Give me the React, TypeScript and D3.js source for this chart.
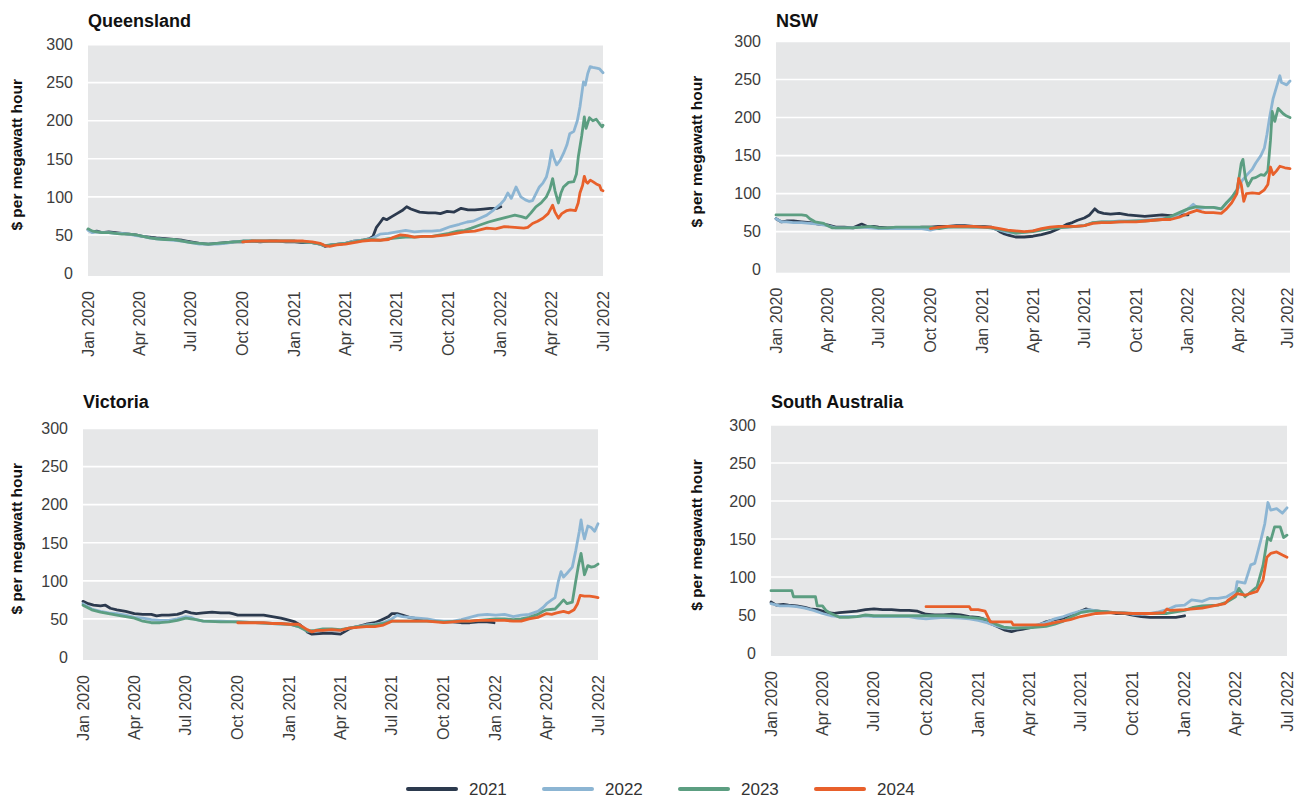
import React from 'react';
import * as d3 from 'd3';

// --- Data: [months since Jan 2020, $ per MWh] ---
const QLD_2021 = [[0,57],[0.25,54],[0.5,55],[0.8,53],[1.2,54],[1.6,53],[2,52],[2.4,51],[2.8,50],[3.2,48],[3.6,47],[4,46],[4.5,45],[5,44],[5.5,43],[6,41],[6.5,39],[7,38],[7.5,39],[8,40],[8.5,41],[9,41],[9.5,42],[10,41],[10.5,42],[11,42],[11.5,41],[12,41],[12.5,40],[13,40],[13.5,38],[13.8,35],[14.2,37],[14.6,38],[15,39],[15.5,42],[16,43],[16.4,45],[16.6,48],[16.8,60],[17,66],[17.2,72],[17.4,70],[17.7,74],[18,78],[18.3,82],[18.56,87],[18.8,84],[19.3,80],[19.8,79],[20.2,79],[20.5,78],[20.9,81],[21.3,80],[21.7,85],[22.1,83],[22.5,83],[23,84],[23.4,85],[23.8,85],[24,87]];
const QLD_2022 = [[0,56],[0.25,53],[0.5,54],[0.8,53],[1.2,53],[1.6,52],[2,52],[2.4,51],[2.8,49],[3.2,48],[3.6,46],[4,45],[4.5,44],[5,43],[5.5,42],[6,40],[6.5,38],[7,38],[7.5,38],[8,39],[8.5,41],[9,42],[9.5,42],[10,42],[10.5,42],[11,42],[11.5,42],[12,42],[12.5,41],[13,40],[13.5,38],[13.8,36],[14.2,37],[14.6,38],[15,39],[15.5,42],[16,43],[16.5,45],[17,51],[17.5,52],[18,54],[18.5,56],[19,54],[19.5,55],[20,55],[20.5,56],[21.1,61],[21.6,64],[22.05,67],[22.4,68],[22.8,72],[23.2,76],[23.6,83],[24,91],[24.2,96],[24.4,105],[24.6,98],[24.87,113],[25.16,100],[25.45,96],[25.7,94],[25.9,95],[26.1,104],[26.3,113],[26.5,118],[26.7,126],[26.85,140],[27,161],[27.15,150],[27.3,142],[27.5,148],[27.7,157],[27.9,168],[28.07,183],[28.3,186],[28.5,200],[28.65,218],[28.85,251],[28.96,247],[29.1,262],[29.24,271],[29.4,270],[29.63,269],[29.8,268],[30,263]];
const QLD_2023 = [[0,58],[0.25,55],[0.5,54],[0.8,53],[1.2,53],[1.6,52],[2,51],[2.4,51],[2.8,50],[3.2,48],[3.6,46],[4,45],[4.5,44],[5,44],[5.5,42],[6,40],[6.5,39],[7,38],[7.5,39],[8,40],[8.5,41],[9,42],[9.5,42],[10,42],[10.5,42],[11,42],[11.5,42],[12,42],[12.5,41],[13,40],[13.5,38],[13.8,36],[14.2,37],[14.6,38],[15,39],[15.5,41],[16,43],[16.5,44],[17,43],[17.5,45],[18,46],[18.5,47],[19,47],[19.5,48],[20,48],[20.5,50],[21,52],[21.5,55],[21.9,56],[22.3,59],[22.8,63],[23.3,67],[23.8,70],[24.3,73],[24.8,76],[25.2,74],[25.5,72],[25.8,79],[26.1,87],[26.4,92],[26.7,100],[26.9,110],[27.06,124],[27.2,108],[27.4,92],[27.55,105],[27.7,113],[28,119],[28.3,120],[28.45,130],[28.56,153],[28.75,180],[28.9,205],[29,190],[29.2,204],[29.4,200],[29.6,202],[29.8,196],[29.95,192],[30,194]];
const QLD_2024 = [[9,41],[9.5,42],[10,42],[10.5,42],[11,42],[11.5,42],[12,42],[12.5,42],[13,41],[13.5,39],[13.8,36],[14.1,35],[14.5,37],[15,38],[15.5,40],[16,42],[16.5,43],[17,43],[17.5,44],[17.8,47],[18.2,50],[18.6,49],[19,47],[19.5,48],[20,48],[20.5,49],[20.9,50],[21.4,52],[21.9,54],[22.5,55],[23.2,59],[23.7,58],[24.2,61],[24.8,60],[25.35,59],[25.6,60],[25.9,65],[26.2,68],[26.5,72],[26.8,78],[27.06,89],[27.2,80],[27.4,72],[27.6,78],[27.9,82],[28.1,83],[28.4,82],[28.55,92],[28.65,105],[28.8,115],[28.9,127],[29,120],[29.1,118],[29.25,122],[29.4,120],[29.6,117],[29.8,115],[29.9,109],[30,108]];

const NSW_2021 = [[0,67],[0.3,63],[0.6,64],[1,64],[1.5,63],[2,62],[2.5,60],[3,59],[3.5,56],[4,56],[4.5,55],[4.8,58],[5,60],[5.3,57],[5.7,57],[6,56],[6.5,55],[7,55],[7.5,55],[8,55],[8.5,56],[9,56],[9.5,57],[10,57],[10.5,58],[11,58],[11.5,57],[12,57],[12.5,56],[12.8,53],[13,50],[13.3,47],[13.6,45],[14,43],[14.5,43],[15,44],[15.5,46],[16,49],[16.5,54],[17,60],[17.3,62],[17.6,65],[18,68],[18.3,72],[18.6,80],[18.8,76],[19.1,74],[19.5,73],[20,74],[20.5,72],[21,71],[21.5,70],[22,71],[22.5,72],[23,71],[23.5,72],[24,72]];
const NSW_2022 = [[0,67],[0.3,63],[0.6,63],[1,62],[1.5,62],[2,61],[2.5,60],[3,58],[3.5,55],[4,55],[4.5,55],[5,56],[5.5,55],[6,54],[6.5,54],[7,54],[7.5,54],[8,54],[8.5,54],[9,52],[9.5,55],[10,56],[10.5,57],[11,57],[11.5,56],[12,56],[12.5,55],[13,52],[13.5,49],[14,48],[14.5,49],[15,51],[15.5,53],[16,55],[16.5,56],[17,56],[17.5,57],[18,58],[18.5,62],[19,63],[19.5,63],[20,64],[20.5,64],[21,64],[21.5,65],[22,66],[22.5,67],[23,68],[23.5,73],[24,80],[24.3,86],[24.6,80],[25,82],[25.5,82],[26,80],[26.4,90],[26.7,98],[27,108],[27.2,117],[27.5,125],[27.8,132],[28,140],[28.3,150],[28.5,160],[28.65,178],[28.8,200],[29,225],[29.2,240],[29.4,255],[29.5,246],[29.6,245],[29.8,243],[30,248]];
const NSW_2023 = [[0,72],[0.5,72],[1,72],[1.5,72],[1.8,71],[2,67],[2.3,63],[2.8,61],[3,58],[3.3,55],[4,55],[4.5,55],[5,56],[5.5,57],[6,55],[6.5,55],[7,56],[7.5,56],[8,56],[8.5,56],[9,56],[9.5,54],[10,56],[10.5,56],[11,56],[11.5,56],[12,56],[12.5,55],[13,53],[13.5,51],[14,48],[14.5,49],[15,50],[15.5,52],[16,54],[16.5,55],[17,56],[17.5,57],[18,58],[18.5,62],[19,63],[19.5,63],[20,63],[21,64],[21.5,64],[22,65],[22.5,66],[23,70],[23.5,75],[24,80],[24.5,83],[25,82],[25.5,82],[26,80],[26.3,88],[26.6,95],[26.9,105],[27,118],[27.15,140],[27.25,145],[27.4,120],[27.55,110],[27.8,120],[28,121],[28.3,125],[28.5,124],[28.7,130],[28.85,170],[28.95,208],[29.1,195],[29.3,212],[29.6,205],[29.8,202],[30,200]];
const NSW_2024 = [[9,54],[9.5,56],[10,57],[10.5,57],[11,57],[11.5,57],[12,56],[12.5,56],[13,54],[13.5,52],[14,51],[14.5,50],[15,51],[15.5,54],[16,56],[16.5,57],[17,57],[17.5,57],[18,58],[18.5,61],[19,62],[19.5,62],[20,63],[20.5,63],[21,63],[21.5,64],[22,65],[22.5,66],[23,66],[23.5,69],[24,74],[24.5,78],[24.8,76],[25,75],[25.5,75],[26,74],[26.3,80],[26.6,88],[26.9,100],[27,120],[27.15,112],[27.3,90],[27.45,100],[27.8,101],[28.2,100],[28.5,105],[28.7,112],[28.85,135],[29,125],[29.2,130],[29.4,136],[29.7,134],[30,133]];

const VIC_2021 = [[0,73],[0.3,70],[0.6,68],[1,67],[1.3,68],[1.6,64],[2,62],[2.5,60],[3,57],[3.5,56],[4,56],[4.3,54],[4.6,55],[5,55],[5.5,56],[5.8,58],[6,60],[6.3,58],[6.6,57],[7,58],[7.5,59],[8,58],[8.5,58],[8.7,57],[9,55],[9.5,55],[10,55],[10.5,55],[11,53],[11.5,51],[12,48],[12.3,46],[12.6,42],[12.8,38],[13,33],[13.3,30],[14,31],[14.5,31],[15,30],[15.3,34],[15.6,38],[16,40],[16.5,43],[17,45],[17.5,50],[17.8,53],[18,57],[18.3,57],[18.6,55],[19,52],[19.5,50],[20,48],[20.5,47],[21,46],[21.5,46],[22,45],[22.5,45],[23,46],[23.5,46],[23.9,45]];
const VIC_2022 = [[0,70],[0.5,63],[1,60],[1.5,58],[2,57],[2.5,55],[3,52],[3.5,51],[4,49],[4.5,48],[5,48],[5.5,50],[6,53],[6.3,52],[6.6,49],[7,47],[8,47],[9,46],[10,45],[11,44],[12,43],[12.5,40],[13,34],[13.5,34],[14,35],[14.5,35],[15,35],[15.5,38],[16,40],[16.5,42],[17,43],[17.5,45],[18,50],[18.3,55],[18.6,53],[19,52],[19.5,51],[20,50],[20.5,48],[21,47],[21.5,47],[22,49],[22.5,52],[23,55],[23.5,56],[24,55],[24.5,56],[25,53],[25.5,55],[26,56],[26.5,60],[26.8,65],[27,70],[27.3,75],[27.5,78],[27.7,100],[27.85,112],[28,105],[28.2,110],[28.5,118],[28.7,140],[28.9,165],[29,180],[29.1,165],[29.2,155],[29.4,172],[29.6,170],[29.8,165],[30,175]];
const VIC_2023 = [[0,68],[0.5,62],[1,59],[1.5,57],[2,55],[2.5,53],[3,51],[3.5,47],[4,45],[4.5,45],[5,46],[5.5,48],[6,51],[6.3,50],[6.6,49],[7,47],[8,46],[9,46],[10,45],[11,44],[12,43],[12.5,40],[13,34],[13.5,35],[14,37],[14.5,37],[15,36],[15.5,38],[16,40],[16.5,41],[17,42],[17.5,44],[18,47],[18.5,47],[19,47],[20,47],[21,46],[22,47],[22.5,47],[23,48],[23.5,49],[24,50],[24.5,50],[25,49],[25.5,50],[26,52],[26.5,56],[26.8,60],[27,62],[27.5,63],[27.8,70],[28,75],[28.2,70],[28.5,72],[28.7,100],[28.85,120],[29,136],[29.1,122],[29.2,108],[29.4,120],[29.6,118],[29.8,119],[30,122]];
const VIC_2024 = [[9,45],[9.5,45],[10,45],[10.5,45],[11,44],[11.5,44],[12,43],[12.5,43],[13,36],[13.3,33],[13.6,35],[14,35],[14.5,36],[15,35],[15.5,38],[16,39],[16.5,40],[17,40],[17.5,42],[18,47],[18.5,47],[19,47],[20,47],[20.5,46],[21,45],[21.5,46],[22,47],[22.5,47],[23,48],[23.5,48],[24,48],[24.5,48],[25,47],[25.5,47],[26,50],[26.5,52],[27,57],[27.3,56],[27.6,58],[28,60],[28.3,58],[28.6,62],[28.8,70],[28.95,81],[29.2,80],[29.5,80],[29.8,79],[30,78]];

const SA_2021 = [[0,67],[0.3,63],[0.7,64],[1,63],[1.5,62],[2,60],[2.3,58],[2.7,57],[3,55],[3.3,53],[3.7,52],[4,53],[4.5,54],[5,55],[5.5,57],[6,58],[6.5,57],[7,57],[7.5,56],[8,56],[8.5,55],[9,51],[9.5,50],[10,50],[10.5,51],[11,50],[11.5,48],[12,47],[12.3,45],[12.6,40],[13,36],[13.3,33],[13.6,30],[14,28],[14.3,30],[14.6,31],[15,33],[15.5,36],[16,41],[16.5,44],[17,46],[17.5,50],[18,55],[18.3,58],[18.6,56],[19,55],[19.5,54],[20,52],[20.5,52],[21,50],[21.5,48],[22,47],[22.5,47],[23,47],[23.5,47],[24,49]];
const SA_2022 = [[0,65],[0.5,62],[1,62],[1.5,61],[2,59],[2.5,56],[3,52],[3.5,49],[4,48],[4.5,48],[5,48],[5.5,49],[6,48],[7,48],[8,48],[8.5,46],[9,45],[9.5,46],[10,47],[11,46],[11.5,45],[12,43],[12.5,40],[13,36],[13.5,33],[14,32],[14.5,33],[15,34],[15.5,37],[16,40],[16.5,45],[17,48],[17.5,52],[18,55],[18.5,57],[19,55],[19.5,54],[20,53],[20.5,53],[21,51],[21.5,51],[22,52],[22.5,54],[23,57],[23.5,62],[24,63],[24.4,70],[25,68],[25.5,72],[26,72],[26.5,74],[27,81],[27.1,94],[27.56,92],[27.9,116],[28.13,118],[28.47,148],[28.7,170],[28.88,198],[29.04,188],[29.39,190],[29.73,184],[30,191]];
const SA_2023 = [[0,82],[0.6,82],[1.2,82],[1.3,74],[2,74],[2.6,74],[2.7,62],[3,62],[3.2,56],[3.5,52],[3.8,49],[4,47],[4.5,47],[5,48],[5.5,50],[6,49],[7,49],[8,49],[9,49],[10,49],[11,48],[11.5,47],[12,46],[12.5,44],[13,38],[13.5,34],[14,33],[14.5,33],[15,33],[15.5,34],[16,35],[16.5,38],[17,42],[17.5,48],[18,53],[18.5,55],[19,55],[19.5,54],[20,53],[21,52],[22,52],[22.5,52],[23,52],[23.5,54],[24,56],[24.5,60],[25,62],[26,63],[26.5,67],[27,74],[27.2,85],[27.56,74],[28.26,87],[28.6,115],[28.86,152],[29.04,148],[29.27,166],[29.6,166],[29.8,152],[30,155]];
const SA_2024 = [[9,61],[10,61],[11,61],[11.5,61],[11.6,57],[12,57],[12.4,55],[12.7,41],[13,41],[14,41],[14.1,37],[15,37],[15.9,37],[16.5,40],[17.4,44],[18,48],[18.9,52],[19.8,53],[21,52],[22.1,52],[22.8,53],[23,58],[23.2,56],[24,57],[25,59],[25.7,62],[26.4,65],[26.6,70],[27.1,78],[27.56,76],[28.26,81],[28.6,96],[28.82,126],[29.04,131],[29.39,133],[29.73,129],[30,126]];

const YEARS = ['2021', '2022', '2023', '2024'];
const COLORS = ['#2c3a4e', '#8cb5d3', '#5c9e81', '#e8602b'];
const Y_TICKS = [0, 50, 100, 150, 200, 250, 300];
const START = new Date(2020, 0, 1);
const END = new Date(2022, 6, 1);

// --- Layout of the four panels ---
const PANELS = [
    { title: 'Queensland', series: [QLD_2021, QLD_2022, QLD_2023, QLD_2024], left: 88, right: 603, top: 44.6, bottom: 273, titleY: 27, axisTitleX: 22 },
    { title: 'NSW', series: [NSW_2021, NSW_2022, NSW_2023, NSW_2024], left: 776, right: 1290, top: 41.5, bottom: 269.7, titleY: 27, axisTitleX: 702 },
    { title: 'Victoria', series: [VIC_2021, VIC_2022, VIC_2023, VIC_2024], left: 83, right: 598, top: 428.5, bottom: 657, titleY: 408, axisTitleX: 22 },
    { title: 'South Australia', series: [SA_2021, SA_2022, SA_2023, SA_2024], left: 771, right: 1287, top: 425, bottom: 653, titleY: 408, axisTitleX: 702 },
];

const FONT = '"Liberation Sans", Arial, Helvetica, sans-serif';
const WIDTH = 1294;
const HEIGHT = 798;

// months since Jan 2020 -> Date
const monthToDate = (m: number) => {
    const whole = Math.floor(m);
    const d0 = d3.timeMonth.offset(START, whole);
    const d1 = d3.timeMonth.offset(START, whole + 1);
    return new Date(+d0 + (m - whole) * (+d1 - +d0));
};

const Panel = ({ p }: { p: typeof PANELS[number] }) => {
    const x = d3.scaleTime().domain([START, END]).range([p.left, p.right]);
    const y = d3.scaleLinear().domain([0, 300]).range([p.bottom, p.top]);
    const line = d3.line<number[]>()
        .x(d => x(monthToDate(d[0])))
        .y(d => y(d[1]));
    const xTicks = x.ticks(d3.timeMonth.every(3) as d3.TimeInterval);
    const fmt = d3.timeFormat('%b %Y');
    const midY = (y(0) + y(300)) / 2 - 4;

    return (
        <g>
            <text x={p.left} y={p.titleY} fontFamily={FONT} fontSize={18} fontWeight="bold" fill="#111">{p.title}</text>
            <rect x={p.left} y={y(300)} width={p.right - p.left} height={y(0) - y(300) + 3} fill="#e6e7e8" />
            {Y_TICKS.filter(t => t > 0).map(t => (
                <line key={t} x1={p.left} x2={p.right} y1={y(t)} y2={y(t)} stroke="#fff" strokeWidth={1.6} />
            ))}
            {Y_TICKS.map(t => (
                <text key={t} x={p.left - 15} y={y(t)} dy="0.36em" textAnchor="end" fontFamily={FONT} fontSize={16} fill="#3c3c3c">{t}</text>
            ))}
            {xTicks.map(t => (
                // keep the last label inside the picture
                <text key={+t} transform={`translate(${Math.min(x(t) + 5.5, WIDTH - 1.5)},${p.bottom + 18}) rotate(-90)`} textAnchor="end"
                      fontFamily={FONT} fontSize={16} fill="#3c3c3c">{fmt(t)}</text>
            ))}
            <text transform={`translate(${p.axisTitleX},${midY}) rotate(-90)`} textAnchor="middle"
                  fontFamily={FONT} fontSize={15.5} fontWeight="bold" fill="#111">$ per megawatt hour</text>
            {p.series.map((s, i) => (
                <path key={i} d={line(s) || ''} fill="none" stroke={COLORS[i]} strokeWidth={2.8}
                      strokeLinejoin="round" strokeLinecap="round" />
            ))}
        </g>
    );
};

const Legend = () => (
    <g>
        {YEARS.map((yr, i) => {
            const lx = 408 + i * 136;
            return (
                <g key={yr}>
                    <line x1={lx} x2={lx + 48} y1={789} y2={789} stroke={COLORS[i]} strokeWidth={4} strokeLinecap="round" />
                    <text x={lx + 61} y={789} dy="0.36em" fontFamily={FONT} fontSize={17} fill="#333">{yr}</text>
                </g>
            );
        })}
    </g>
);

export default function App() {
    return (
        <>
            <style>{`body { margin: 0; background: #fff; }`}</style>
            <svg width={WIDTH} height={HEIGHT} style={{ display: 'block' }}>
                <rect width={WIDTH} height={HEIGHT} fill="#fff" />
                {PANELS.map(p => <Panel key={p.title} p={p} />)}
                <Legend />
            </svg>
        </>
    );
}
